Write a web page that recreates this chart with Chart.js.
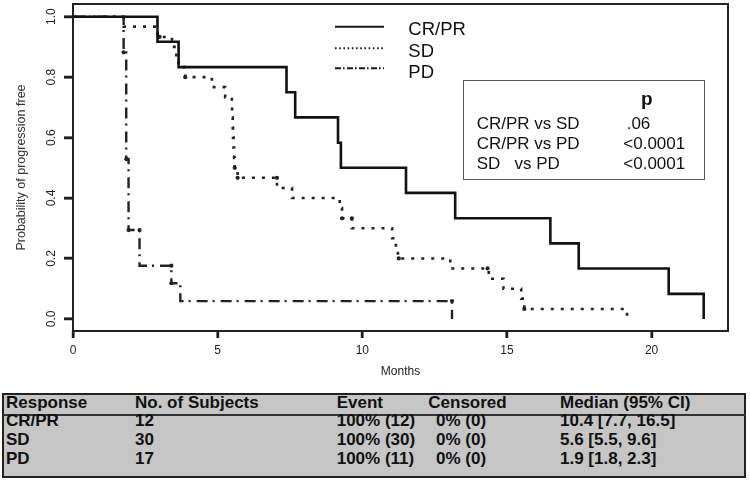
<!DOCTYPE html>
<html><head><meta charset="utf-8">
<script src="https://cdn.jsdelivr.net/npm/chart.js@4.4.1/dist/chart.umd.min.js"></script>
<style>
html,body{margin:0;padding:0;background:#fff;}
#wrap{position:relative;width:750px;height:482px;overflow:hidden;font-family:"Liberation Sans",Arial,Helvetica,sans-serif;}
canvas{position:absolute;left:0;top:0;}
.t{position:absolute;white-space:pre;line-height:18px;color:#111;font-size:17px;}
.b{font-weight:bold;}
#pbox{position:absolute;left:463px;top:80px;width:240px;height:98px;border:1.5px solid #555;}
#tbl{position:absolute;left:2px;top:393px;width:740px;height:81px;border:2px solid #222;background:#c6c6c6;}
#sep{position:absolute;left:3px;top:414px;width:743px;height:2px;background:#333;}
</style></head>
<body><div id="wrap">
<canvas id="c" width="750" height="482"></canvas>
<div id="pbox"></div>
<div id="tbl"></div>
<div id="sep"></div>
</div>
<script>
// ---- data ----
const crprTime = [0, 2.92, 3.65, 7.38, 7.68, 9.16, 9.26, 11.51, 13.21, 16.50, 17.48, 20.59, 21.80];
const crprSurv = [1, 0.917, 0.833, 0.750, 0.667, 0.583, 0.500, 0.417, 0.333, 0.250, 0.167, 0.083, 0];
const sdTime = [0, 1.75, 2.92, 3.42, 3.57, 3.65, 3.88, 4.80, 5.26, 5.49, 5.50, 5.52, 5.53, 5.55, 5.57, 5.59, 5.69, 7.05, 7.57, 9.22, 9.30, 9.64, 11.03, 11.16, 11.23, 13.04, 14.37, 14.88, 15.49, 15.60, 19.15];
const sdSurv = [1, 0.967, 0.933, 0.900, 0.867, 0.833, 0.800, 0.767, 0.733, 0.700, 0.667, 0.633, 0.600, 0.567, 0.533, 0.500, 0.467, 0.433, 0.400, 0.367, 0.333, 0.300, 0.267, 0.233, 0.200, 0.167, 0.133, 0.100, 0.067, 0.033, 0];
const pdTime = [0, 1.75, 1.84, 1.92, 2.30, 3.40, 3.71, 13.10];
const pdSurv = [1, 0.882, 0.529, 0.294, 0.176, 0.118, 0.059, 0];
const sdMarkTime = [2.99, 3.88, 5.59, 5.69, 7.05, 9.30, 9.64, 11.26, 14.33, 15.60];
const sdMarkSurv = [0.933, 0.800, 0.500, 0.467, 0.467, 0.333, 0.333, 0.200, 0.167, 0.033];
const pdMarkTime = [1.75, 1.84, 1.92, 2.30, 3.40, 3.40, 13.10];
const pdMarkSurv = [0.882, 0.529, 0.294, 0.294, 0.176, 0.118, 0.059];
const xTicks = [0, 5, 10, 15, 20];
const xTickLabels = ['0', '5', '10', '15', '20'];
const yTicks = [0, 0.2, 0.4, 0.6, 0.8, 1.0];
const yTickLabels = ['0.0', '0.2', '0.4', '0.6', '0.8', '1.0'];
const seriesNames = ['CR/PR', 'SD', 'PD'];
const pComparisons = ['CR/PR vs SD', 'CR/PR vs PD', 'SD   vs PD'];
const pValues = ['.06', '<0.0001', '<0.0001'];
const tableHeader = ['Response', 'No. of Subjects', 'Event', 'Censored', 'Median (95% CI)'];
const tblResponse = ['CR/PR', 'SD', 'PD'];
const tblSubjects = ['12', '30', '17'];
const tblEvent = ['100% (12)', '100% (30)', '100% (11)'];
const tblCensored = ['0% (0)', '0% (0)', '0% (0)'];
const tblMedian = ['10.4 [7.7, 16.5]', '5.6 [5.5, 9.6]', '1.9 [1.8, 2.3]'];

const FONT = '"Liberation Sans", Arial, Helvetica, sans-serif';
const zip = (xs, ys) => xs.map((x, i) => ({x: x, y: ys[i]}));
const dashes = [[], [3, 7], [11, 5, 2, 6]];
const legendDashes = [[], [1.6, 2.6], [6, 2, 1.6, 2.4]];

// ---- HTML text: p-value box and table ----
const wrap = document.getElementById('wrap');
function addText(txt, left, top, cls, extra) {
  const s = document.createElement('div');
  s.className = 't' + (cls ? ' ' + cls : '');
  s.textContent = txt;
  s.style.left = left + 'px';
  s.style.top = top + 'px';
  if (extra) Object.assign(s.style, extra);
  wrap.appendChild(s);
}
addText('p', 626.7, 90.4, 'b', {width: '40px', textAlign: 'center', fontSize: '19px'});
const pRowTop = [115, 135, 155];
const pValLeft = [626.7, 623.3, 623.3];
pComparisons.forEach((c, i) => {
  addText(c, 476.7, pRowTop[i]);
  addText(pValues[i], pValLeft[i], pRowTop[i]);
});
const colLeft = [6, 135, 336.7, 428.3, 560];
const colLeftRows = [6, 135, 336.7, 436, 560];
const headTop = 393.8;
tableHeader.forEach((h, j) => addText(h, colLeft[j], headTop, 'b'));
const rowTop = [412.4, 431.1, 449.6];
tblResponse.forEach((r, i) => {
  [tblResponse[i], tblSubjects[i], tblEvent[i], tblCensored[i], tblMedian[i]].forEach((v, j) => {
    addText(v, colLeftRows[j], rowTop[i], 'b');
  });
});

// ---- plugins ----
const boxPlugin = {
  id: 'box',
  afterDraw(chart) {
    const {ctx, chartArea: a} = chart;
    ctx.save();
    ctx.strokeStyle = '#222';
    ctx.lineWidth = 2;
    ctx.setLineDash([]);
    ctx.strokeRect(a.left, a.top, a.right - a.left, a.bottom - a.top);
    // tick marks through the library's scales
    const xs = chart.scales.x, ys = chart.scales.y;
    ctx.strokeStyle = '#1e1e1e';
    ctx.lineWidth = 2.4;
    ctx.beginPath();
    xs.ticks.forEach(t => {
      const px = Math.round(xs.getPixelForValue(t.value));
      ctx.moveTo(px, a.bottom);
      ctx.lineTo(px, a.bottom + 7);
    });
    ys.ticks.forEach(t => {
      const py = Math.round(ys.getPixelForValue(t.value));
      ctx.moveTo(a.left, py);
      ctx.lineTo(a.left - 9, py);
    });
    ctx.stroke();
    ctx.restore();
  }
};
const legendPlugin = {
  id: 'kmLegend',
  afterDraw(chart) {
    const ctx = chart.ctx;
    const lineY = [26.7, 48.3, 68.3];
    const baseY = [35, 56.7, 78.3];
    ctx.save();
    seriesNames.forEach((name, i) => {
      ctx.beginPath();
      ctx.setLineDash(legendDashes[i]);
      ctx.lineWidth = 2;
      ctx.strokeStyle = '#1a1a1a';
      ctx.moveTo(335, lineY[i]);
      ctx.lineTo(384, lineY[i]);
      ctx.stroke();
      ctx.setLineDash([]);
      ctx.fillStyle = '#111';
      ctx.font = '18.5px ' + FONT;
      ctx.textBaseline = 'alphabetic';
      ctx.textAlign = 'left';
      ctx.fillText(name, 408.3, baseY[i]);
    });
    ctx.restore();
  }
};

const lineCommon = {stepped: 'before', pointRadius: 0, fill: false, borderCapStyle: 'butt', borderJoinStyle: 'miter', tension: 0};
const markCommon = {showLine: false, pointRadius: 2.1, pointBorderWidth: 0, pointHoverRadius: 0};

new Chart(document.getElementById('c'), {
  type: 'line',
  data: {
    datasets: [
      Object.assign({label: seriesNames[0], data: zip(crprTime, crprSurv), borderColor: '#111', borderWidth: 2.6, borderDash: dashes[0]}, lineCommon),
      Object.assign({label: seriesNames[1], data: zip(sdTime, sdSurv), borderColor: '#222', borderWidth: 2.6, borderDash: dashes[1]}, lineCommon),
      Object.assign({label: seriesNames[2], data: zip(pdTime, pdSurv), borderColor: '#222', borderWidth: 2.4, borderDash: dashes[2]}, lineCommon),
      Object.assign({label: 'SD marks', data: zip(sdMarkTime, sdMarkSurv), pointBackgroundColor: '#222', borderColor: '#222'}, markCommon),
      Object.assign({label: 'PD marks', data: zip(pdMarkTime, pdMarkSurv), pointBackgroundColor: '#222', borderColor: '#222'}, markCommon)
    ]
  },
  options: {
    responsive: false,
    devicePixelRatio: 1,
    animation: false,
    events: [],
    layout: {padding: {left: 0, top: 4, right: 22, bottom: 101}},
    plugins: {legend: {display: false}, tooltip: {enabled: false}, title: {display: false}},
    scales: {
      x: {
        type: 'linear', min: 0, max: 22.64,
        afterBuildTicks: s => { s.ticks = xTicks.map(v => ({value: v})); },
        afterFit: s => { s.height = 50; s.paddingLeft = 0; s.paddingRight = 0; },
        grid: {display: true, drawOnChartArea: false, drawTicks: true, tickLength: 7, tickWidth: 2, tickColor: '#222'},
        border: {display: false},
        ticks: {padding: 5, color: '#222', font: {family: FONT, size: 12},
          maxRotation: 0, minRotation: 0, autoSkip: false,
          callback: v => { const i = xTicks.indexOf(v); return i >= 0 ? xTickLabels[i] : ''; }},
        title: {display: true, text: 'Months', color: '#222', font: {family: FONT, size: 12}, padding: {top: 0, bottom: 2}}
      },
      y: {
        type: 'linear', min: -0.04, max: 1.042,
        afterBuildTicks: s => { s.ticks = yTicks.map(v => ({value: v})); },
        afterFit: s => { s.width = 73; s.paddingTop = 0; s.paddingBottom = 0; },
        grid: {display: true, drawOnChartArea: false, drawTicks: true, tickLength: 9, tickWidth: 2, tickColor: '#222'},
        border: {display: false},
        ticks: {padding: 4, color: '#222', font: {family: FONT, size: 12}, minRotation: 90, maxRotation: 90,
          crossAlign: 'center', autoSkip: false,
          callback: v => { const i = yTicks.findIndex(t => Math.abs(t - v) < 1e-9); return i >= 0 ? yTickLabels[i] : ''; }},
        title: {display: true, text: 'Probability of progression free', color: '#333', font: {family: FONT, size: 12.5}, padding: {top: 14, bottom: 0}}
      }
    }
  },
  plugins: [boxPlugin, legendPlugin]
});
</script>
</body></html>
